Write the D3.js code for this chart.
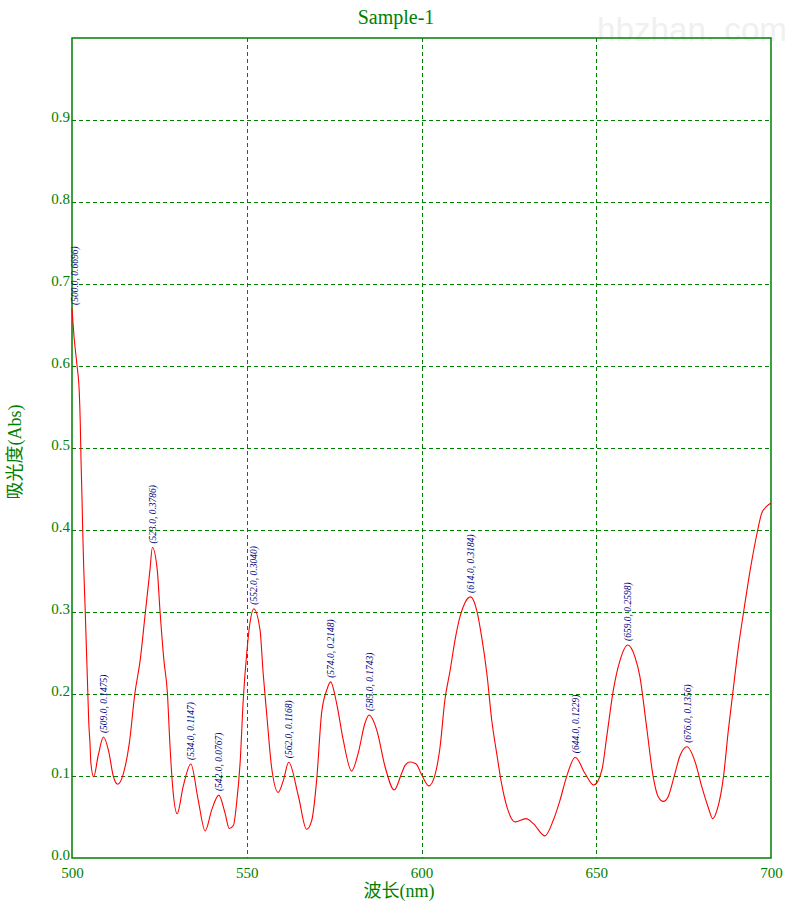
<!DOCTYPE html>
<html>
<head>
<meta charset="utf-8">
<script src="https://cdn.jsdelivr.net/npm/d3@7"></script>
<style>
  html, body { margin: 0; padding: 0; background: #fff; }
  svg { display: block; }
</style>
</head>
<body>
<svg id="chart" width="798" height="907"></svg>
<script>
// ---- data ----
const wavelength = [
  500, 500.66, 501.43, 502.09, 502.37, 502.58, 502.86, 503.06, 503.35, 503.8,
  504.2, 504.5, 504.8, 505.15, 505.4, 506.2, 507.5, 509, 510.5, 511.8,
  513.1, 514.7, 516.4, 518.0, 519.5, 521.0, 522.3, 523, 524.4, 525.2,
  526.3, 527.3, 528.0, 528.8, 530.1, 531.8, 534, 536.1, 538.1, 540,
  542, 543.8, 545, 546.2, 547.1, 548.1, 549.0, 550, 550.9, 552,
  553.8, 554.7, 555.7, 557.1, 559.0, 560.5, 562, 564.8, 567.1, 568.6,
  570.0, 571.4, 572.9, 574, 575.7, 577.6, 580.0, 581.9, 583.8, 585,
  587.2, 589.6, 592.2, 594.3, 595.3, 596.7, 598.4, 600.1, 602.1, 603.9,
  605.3, 606.7, 608.2, 609.6, 611.0, 612.4, 614, 615.8, 617.2, 618.7,
  620.1, 621.5, 622.9, 624.4, 626.8, 629.9, 632.0, 635.3, 637.7, 639.6,
  641.5, 644, 646.8, 649.3, 651.6, 653.0, 654.9, 656.8, 659, 661.1,
  662.5, 664.4, 666.3, 667.7, 669.2, 670.6, 672.5, 673.9, 676, 678.3,
  680.2, 682.1, 683.3, 684.6, 686.4, 687.8, 689.2, 690.7, 692.2, 694.2,
  696.2, 697.3, 698.8, 700
];
const absorbance = [
  0.670, 0.632, 0.601, 0.567, 0.530, 0.485, 0.440, 0.400, 0.355, 0.299,
  0.245, 0.205, 0.165, 0.140, 0.116, 0.099, 0.125, 0.1475, 0.130, 0.100,
  0.090, 0.103, 0.140, 0.201, 0.241, 0.300, 0.351, 0.3786, 0.351, 0.300,
  0.241, 0.201, 0.140, 0.087, 0.054, 0.087, 0.1147, 0.071, 0.033, 0.059,
  0.0767, 0.0545, 0.036, 0.040, 0.067, 0.116, 0.193, 0.250, 0.286, 0.3040,
  0.278, 0.225, 0.176, 0.111, 0.080, 0.095, 0.1168, 0.075, 0.035, 0.046,
  0.095, 0.176, 0.205, 0.2148, 0.189, 0.144, 0.106, 0.128, 0.164, 0.1743,
  0.156, 0.111, 0.083, 0.103, 0.113, 0.117, 0.115, 0.101, 0.088, 0.102,
  0.135, 0.193, 0.229, 0.266, 0.294, 0.311, 0.3184, 0.302, 0.270, 0.225,
  0.168, 0.128, 0.091, 0.063, 0.044, 0.048, 0.042, 0.027, 0.046, 0.070,
  0.099, 0.1229, 0.103, 0.089, 0.107, 0.148, 0.205, 0.241, 0.2598, 0.245,
  0.221, 0.160, 0.099, 0.075, 0.069, 0.075, 0.103, 0.124, 0.1356, 0.117,
  0.087, 0.061, 0.048, 0.059, 0.099, 0.156, 0.206, 0.258, 0.301, 0.355,
  0.400, 0.420, 0.429, 0.433
];
const peakWavelength = [500, 509, 523, 534, 542, 552, 562, 574, 585, 614, 644, 659, 676];
const peakAbsorbance = [0.6696, 0.1475, 0.3786, 0.1147, 0.0767, 0.3040, 0.1168, 0.2148, 0.1743, 0.3184, 0.1229, 0.2598, 0.1356];
const xTicks = [500, 550, 600, 650, 700];
const yTicks = [0.0, 0.1, 0.2, 0.3, 0.4, 0.5, 0.6, 0.7, 0.8, 0.9];
const titleText = "Sample-1";
const xTitle = "波长(nm)";
const yTitle = "吸光度(Abs)";

// ---- layout ----
const svg = d3.select("#chart");
const plotL = 72, plotR = 771, plotT = 38, plotB = 858;
const green = "#008000";
const serif = "'Liberation Serif', 'Times New Roman', 'Noto Sans CJK SC', serif";

const x = d3.scaleLinear().domain([500, 700]).range([plotL, plotR]);
const y = d3.scaleLinear().domain([0, 1]).range([plotB, plotT]);

// watermark
svg.append("text")
  .attr("x", 597).attr("y", 41)
  .attr("font-family", "'Liberation Sans', Arial, sans-serif")
  .attr("font-size", 34)
  .attr("fill", "#f0f0f0")
  .attr("textLength", 190).attr("lengthAdjust", "spacingAndGlyphs")
  .text("hbzhan. com");

// title
svg.append("text")
  .attr("x", 396).attr("y", 24)
  .attr("text-anchor", "middle")
  .attr("font-family", serif)
  .attr("font-size", 20)
  .attr("fill", green)
  .text(titleText);

// grid
const grid = svg.append("g");
grid.selectAll("line.h")
  .data(yTicks.filter(d => d > 0))
  .join("line")
  .attr("x1", plotL).attr("x2", plotR)
  .attr("y1", d => Math.round(y(d)) + 0.5).attr("y2", d => Math.round(y(d)) + 0.5)
  .attr("stroke", green).attr("stroke-width", 1)
  .attr("stroke-dasharray", "4,3");
grid.selectAll("line.v")
  .data(xTicks.filter(d => d > 500 && d < 700))
  .join("line")
  .attr("x1", d => Math.round(x(d)) + 0.5).attr("x2", d => Math.round(x(d)) + 0.5)
  .attr("y1", plotT).attr("y2", plotB)
  .attr("stroke", green).attr("stroke-width", 1)
  .attr("stroke-dasharray", "4,3");

// axes (labels only, no tick marks)
const xAxis = d3.axisBottom(x).tickValues(xTicks).tickSize(0).tickPadding(0).tickFormat(d3.format("d"));
const gx = svg.append("g").attr("transform", `translate(0,${plotB})`).call(xAxis);
gx.select(".domain").remove();
gx.selectAll("text")
  .attr("y", 20).attr("dy", 0)
  .attr("font-family", serif).attr("font-size", 15)
  .attr("fill", green);

const yAxis = d3.axisLeft(y).tickValues(yTicks).tickSize(0).tickPadding(0).tickFormat(d3.format(".1f"));
const gy = svg.append("g").attr("transform", `translate(${plotL},0)`).call(yAxis);
gy.select(".domain").remove();
gy.selectAll("text")
  .attr("x", -2).attr("dy", 1)
  .attr("font-family", serif).attr("font-size", 15)
  .attr("fill", green);

// frame
svg.append("rect")
  .attr("x", plotL).attr("y", plotT)
  .attr("width", plotR - plotL).attr("height", plotB - plotT)
  .attr("fill", "none").attr("stroke", green).attr("stroke-width", 1.5);

// curve
const pts = wavelength.map((w, i) => [w, absorbance[i]]);
const line = d3.line()
  .x(d => x(d[0])).y(d => y(d[1]))
  .curve(d3.curveMonotoneX);
svg.append("path")
  .datum(pts)
  .attr("d", line)
  .attr("fill", "none")
  .attr("stroke", "#ff0000")
  .attr("stroke-width", 1.1);

// peak labels
const peaks = peakWavelength.map((w, i) => ({ w, a: peakAbsorbance[i] }));
svg.append("g").selectAll("text")
  .data(peaks)
  .join("text")
  .attr("transform", d => `translate(${x(d.w) + (d.w === 500 ? 6 : 3.5)},${y(d.a) - 4}) rotate(-90)`)
  .attr("font-family", serif)
  .attr("font-style", "italic")
  .attr("font-size", 9.5)
  .attr("fill", "#000080")
  .text(d => `(${d.w.toFixed(1)}, ${d.a.toFixed(4)})`);

// axis titles
svg.append("text")
  .attr("x", 399).attr("y", 897)
  .attr("text-anchor", "middle")
  .attr("font-family", serif)
  .attr("font-size", 18)
  .attr("fill", green)
  .text(xTitle);

svg.append("text")
  .attr("transform", `translate(21,452) rotate(-90)`)
  .attr("text-anchor", "middle")
  .attr("font-family", serif)
  .attr("font-size", 18)
  .attr("fill", green)
  .text(yTitle);
</script>
</body>
</html>
